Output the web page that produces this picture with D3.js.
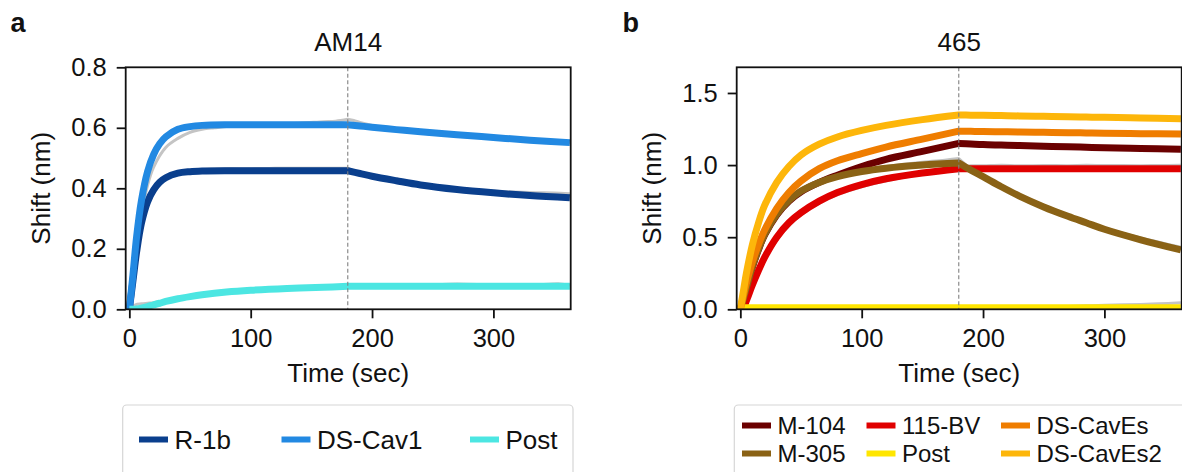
<!DOCTYPE html>
<html><head><meta charset="utf-8">
<script src="https://cdn.jsdelivr.net/npm/d3@7"></script>
<style>
html,body{margin:0;padding:0;background:#fff;}
svg{display:block;font-family:"Liberation Sans",Arial,Helvetica,sans-serif;}
</style></head>
<body>
<script>
// ---------- DATA ----------
const xTicks = [0, 100, 200, 300];
const leftYTicks = [0.0, 0.2, 0.4, 0.6, 0.8];
const rightYTicks = [0.0, 0.5, 1.0, 1.5];
const titles = ["AM14", "465"];
const panelLetters = ["a", "b"];
const dissocStart = 180;

// Left panel (AM14) fitted curves
const leftTimes = [0,3,6,10,15,20,25,30,40,50,60,80,100,130,160,180,190,200,220,240,270,300,330,363];
const leftNames = ["R-1b", "DS-Cav1", "Post"];
const leftColors = ["#0a3f8d", "#2289e2", "#4ce6e2"];
const fitR1b  = [0,0.095,0.19,0.285,0.355,0.395,0.42,0.435,0.45,0.455,0.457,0.458,0.458,0.458,0.458,0.458,0.449,0.44,0.425,0.411,0.396,0.385,0.376,0.369];
const fitCav1 = [0,0.115,0.24,0.36,0.455,0.512,0.547,0.57,0.595,0.604,0.608,0.61,0.61,0.61,0.61,0.61,0.606,0.602,0.594,0.587,0.577,0.568,0.559,0.551];
const fitPostL= [0,0,0.001,0.004,0.009,0.015,0.02,0.026,0.035,0.042,0.048,0.057,0.063,0.069,0.073,0.076,0.076,0.076,0.076,0.076,0.076,0.076,0.076,0.076];

// Left panel raw (grey) traces
const rawLeftTimes = [0,5,10,15,20,30,40,50,60,70,80,100,120,140,160,170,180,185,190,200,210,220,240,270,300,330,355,363];
const rawR1b  = [0,0.15,0.27,0.34,0.385,0.43,0.447,0.455,0.462,0.464,0.465,0.465,0.466,0.466,0.466,0.466,0.466,0.458,0.45,0.437,0.428,0.42,0.407,0.395,0.39,0.386,0.384,0.382];
const rawCav1 = [0,0.16,0.31,0.41,0.47,0.535,0.565,0.585,0.595,0.6,0.604,0.608,0.612,0.615,0.62,0.622,0.628,0.624,0.618,0.608,0.6,0.593,0.583,0.573,0.566,0.558,0.553,0.551];
const rawPostL= [0,0.015,0.018,0.02,0.022,0.028,0.035,0.042,0.048,0.052,0.057,0.063,0.068,0.071,0.074,0.076,0.079,0.078,0.077,0.077,0.078,0.078,0.079,0.084,0.08,0.08,0.084,0.08];

// Right panel (465) fitted curves
const rightTimes = [0,3,5,10,15,20,30,40,50,65,80,100,120,150,180,190,200,215,230,250,270,285,300,330,363];
const rightNames = ["M-104", "M-305", "115-BV", "Post", "DS-CavEs", "DS-CavEs2"];
const rightColors = ["#6b0000", "#8a6215", "#e00000", "#ffe600", "#ef7d00", "#fdb60a"];
const fitM104  = [0,0.088,0.147,0.295,0.415,0.515,0.655,0.75,0.815,0.88,0.93,0.99,1.04,1.095,1.15,1.146,1.142,1.139,1.136,1.131,1.127,1.124,1.12,1.115,1.11];
const fitM305  = [0,0.09,0.15,0.3,0.42,0.52,0.66,0.755,0.82,0.88,0.92,0.955,0.978,1.0,1.014,0.965,0.92,0.85,0.785,0.71,0.645,0.6,0.555,0.482,0.412];
const fit115BV = [0,0.02,0.06,0.17,0.27,0.36,0.5,0.6,0.67,0.75,0.81,0.865,0.905,0.945,0.975,0.975,0.975,0.975,0.975,0.975,0.975,0.975,0.975,0.975,0.975];
const fitPostR = [0.01,0.01,0.01,0.01,0.01,0.01,0.01,0.01,0.01,0.01,0.01,0.01,0.01,0.01,0.01,0.01,0.01,0.01,0.01,0.01,0.01,0.01,0.01,0.01,0.01];
const fitCavEs = [0,0.11,0.18,0.33,0.45,0.55,0.7,0.81,0.89,0.975,1.03,1.08,1.125,1.18,1.235,1.234,1.233,1.231,1.229,1.227,1.225,1.223,1.221,1.218,1.215];
const fitCavEs2= [0,0.15,0.25,0.45,0.6,0.72,0.88,0.99,1.07,1.145,1.195,1.24,1.275,1.315,1.347,1.346,1.345,1.343,1.341,1.338,1.335,1.333,1.331,1.327,1.322];

// Right panel raw (grey) traces
const rawRightTimes = [0,5,10,20,30,40,50,65,80,100,120,150,170,180,190,200,215,230,250,270,285,300,330,345,363];
const raw115BV = [0,0.05,0.15,0.34,0.48,0.58,0.655,0.735,0.795,0.85,0.89,0.94,0.965,0.985,0.995,0.995,0.998,0.995,0.997,0.996,0.998,0.997,0.996,0.997,0.998];
const rawM305  = [0,0.14,0.29,0.51,0.65,0.75,0.815,0.88,0.925,0.965,0.99,1.02,1.035,1.045,0.975,0.93,0.86,0.795,0.72,0.655,0.61,0.565,0.495,0.465,0.43];
const rawPostR = [0,0,0,0,0,0,0,0,0,0,0,0,0,0,0.002,0.004,0.008,0.012,0.016,0.02,0.024,0.028,0.034,0.038,0.045];

// ---------- LAYOUT ----------
const W = 1182, H = 472;
const svg = d3.select("body").append("svg").attr("width", W).attr("height", H);
svg.append("rect").attr("width", W).attr("height", H).attr("fill", "#fff");
const FONT_TICK = 25.5, FONT_LAB = 26, FONT_TITLE = 26, FONT_LEG = 26, FONT_LEG2 = 24;

const panels = [
  {x0:125.7, x1:570.7, y0:67.3, y1:309.3, yMax:0.8, yTicks:leftYTicks, fmt:d3.format(".1f"),
   title:titles[0], letter:panelLetters[0], letterX:10.5, ylabX:49.5,
   fits:[{t:leftTimes,v:fitR1b,c:leftColors[0]},{t:leftTimes,v:fitCav1,c:leftColors[1]},{t:leftTimes,v:fitPostL,c:leftColors[2]}],
   raws:[{t:rawLeftTimes,v:rawR1b},{t:rawLeftTimes,v:rawCav1},{t:rawLeftTimes,v:rawPostL}]},
  {x0:736.7, x1:1181.7, y0:67.3, y1:309.3, yMax:1.678, yTicks:rightYTicks, fmt:d3.format(".1f"),
   title:titles[1], letter:panelLetters[1], letterX:622.5, ylabX:661,
   fits:[{t:rightTimes,v:fitM104,c:rightColors[0]},{t:rightTimes,v:fit115BV,c:rightColors[2]},{t:rightTimes,v:fitM305,c:rightColors[1]},
         {t:rightTimes,v:fitPostR,c:rightColors[3]},{t:rightTimes,v:fitCavEs,c:rightColors[4]},{t:rightTimes,v:fitCavEs2,c:rightColors[5]}],
   raws:[{t:rawRightTimes,v:raw115BV},{t:rawRightTimes,v:rawM305},{t:rawRightTimes,v:rawPostR}]}
];

panels.forEach((p, i) => {
  const x = d3.scaleLinear().domain([-3, 363.7]).range([p.x0, p.x1]);
  const y = d3.scaleLinear().domain([0, p.yMax]).range([p.y1, p.y0]);
  const g = svg.append("g");
  const clipId = "clip" + i;
  svg.append("clipPath").attr("id", clipId).append("rect")
    .attr("x", p.x0).attr("y", p.y0).attr("width", p.x1 - p.x0).attr("height", p.y1 - p.y0);
  const plot = g.append("g").attr("clip-path", `url(#${clipId})`);
  const line = d3.line().x(d => x(d[0])).y(d => y(d[1])).curve(d3.curveCatmullRom.alpha(0.5));
  // association and dissociation phases joined into one path (kink at dissociation start)
  const phasePath = (t, v) => {
    const pts = t.map((tt, k) => [tt, v[k]]);
    const a = pts.filter(d => d[0] <= dissocStart);
    const b = pts.filter(d => d[0] >= dissocStart);
    return line(a) + line(b).replace(/^M/, "L");
  };

  p.raws.forEach(r => {
    plot.append("path").attr("d", phasePath(r.t, r.v)).attr("fill", "none")
      .attr("stroke", "#c4c4c4").attr("stroke-width", 3).attr("stroke-linejoin", "round");
  });
  p.fits.forEach(f => {
    plot.append("path").attr("d", phasePath(f.t, f.v)).attr("fill", "none")
      .attr("stroke", f.c).attr("stroke-width", 7)
      .attr("stroke-linejoin", "round").attr("stroke-linecap", "butt");
  });
  // dashed vertical line
  g.append("line").attr("x1", x(dissocStart)).attr("x2", x(dissocStart))
    .attr("y1", p.y0).attr("y2", p.y1).attr("stroke", "#808080")
    .attr("stroke-width", 1.1).attr("stroke-dasharray", "4,2.5");

  // axes
  const ax = g.append("g").attr("transform", `translate(0,${p.y1})`)
    .call(d3.axisBottom(x).tickValues(xTicks).tickSize(9).tickPadding(10.3).tickFormat(d3.format("d")));
  const ay = g.append("g").attr("transform", `translate(${p.x0},0)`)
    .call(d3.axisLeft(y).tickValues(p.yTicks).tickSize(9).tickPadding(10).tickFormat(p.fmt));
  [ax, ay].forEach(a => {
    a.select(".domain").remove();
    a.selectAll(".tick line").attr("stroke", "#111").attr("stroke-width", 1.8);
    a.selectAll(".tick text").attr("fill", "#111").style("font-size", FONT_TICK + "px")
      .style("font-family", "'Liberation Sans',Arial,sans-serif");
  });
  g.append("rect").attr("x", p.x0).attr("y", p.y0).attr("width", p.x1 - p.x0).attr("height", p.y1 - p.y0)
    .attr("fill", "none").attr("stroke", "#111").attr("stroke-width", 1.8);

  const cx = (p.x0 + p.x1) / 2;
  g.append("text").attr("x", cx).attr("y", 51).attr("text-anchor", "middle")
    .style("font-size", FONT_TITLE + "px").attr("fill", "#111").text(p.title);
  g.append("text").attr("x", cx).attr("y", 382).attr("text-anchor", "middle")
    .style("font-size", FONT_LAB + "px").attr("fill", "#111").text("Time (sec)");
  g.append("text").attr("transform", `translate(${p.ylabX},${(p.y0 + p.y1) / 2}) rotate(-90)`)
    .attr("text-anchor", "middle").style("font-size", FONT_LAB + "px").attr("fill", "#111").text("Shift (nm)");
  g.append("text").attr("x", p.letterX).attr("y", 31.7).style("font-size", "27px")
    .style("font-weight", "bold").attr("fill", "#111").text(p.letter);
});

// ---------- LEGENDS ----------
function legendBox(x, y, w, h) {
  svg.append("rect").attr("x", x).attr("y", y).attr("width", w).attr("height", h).attr("rx", 4)
    .attr("fill", "#fff").attr("stroke", "#d6d6d6").attr("stroke-width", 1.2);
}
function legendItem(sx, sy, color, label, fs) {
  svg.append("line").attr("x1", sx).attr("x2", sx + 29).attr("y1", sy).attr("y2", sy)
    .attr("stroke", color).attr("stroke-width", 6);
  svg.append("text").attr("x", sx + 35.5).attr("y", sy + fs * 0.36).style("font-size", fs + "px")
    .attr("fill", "#111").text(label);
}
legendBox(122.7, 405, 450.3, 90);
const leftLegX = [139, 281.5, 470];
leftNames.forEach((n, k) => legendItem(leftLegX[k], 439.5, leftColors[k], n, FONT_LEG));

legendBox(734.3, 405, 470, 90);
const rightLegX = [742, 866.5, 1001];
const rightLegY = [425.5, 453.5];
rightNames.forEach((n, k) => {
  const col = Math.floor(k / 2), row = k % 2;
  legendItem(rightLegX[col], rightLegY[row], rightColors[k], n, FONT_LEG2);
});
</script>
</body></html>
